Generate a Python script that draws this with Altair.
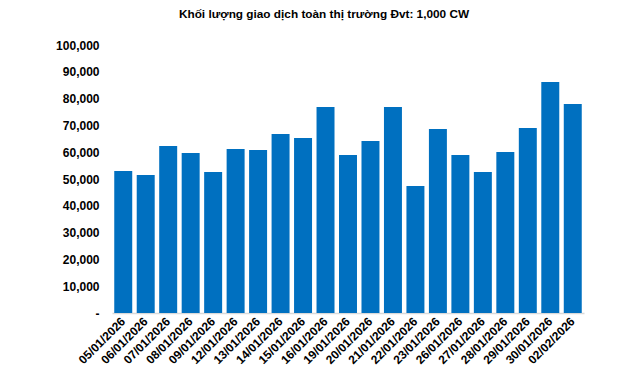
import altair as alt
import pandas as pd

dates = ["05/01/2026", "06/01/2026", "07/01/2026", "08/01/2026", "09/01/2026",
         "12/01/2026", "13/01/2026", "14/01/2026", "15/01/2026", "16/01/2026",
         "19/01/2026", "20/01/2026", "21/01/2026", "22/01/2026", "23/01/2026",
         "26/01/2026", "27/01/2026", "28/01/2026", "29/01/2026", "30/01/2026",
         "02/02/2026"]
volumes = [53000, 51500, 62300, 59700, 52600, 61200, 60800, 66800, 65300, 76900,
           59000, 64200, 76900, 47400, 68700, 59000, 52600, 60100, 69000, 86200,
           78000]

df = pd.DataFrame({"date": dates, "volume": volumes})

FONT = "Liberation Sans"

chart = alt.Chart(df).mark_bar(color="#0070C0").encode(
    x=alt.X("date:N", sort=dates, title=None,
            scale=alt.Scale(paddingInner=0.2, paddingOuter=0.1),
            axis=alt.Axis(labelAngle=-45, labelAlign="right", labelBaseline="middle",
                          labelFont=FONT, labelFontSize=12, labelFontWeight="bold",
                          labelColor="#000000", ticks=False, labelPadding=6,
                          domainColor="#d9d9d9", domainWidth=1.5, grid=False)),
    y=alt.Y("volume:Q", title=None,
            scale=alt.Scale(domain=[0, 100000], nice=False),
            axis=alt.Axis(values=list(range(0, 100001, 10000)),
                          labelExpr="datum.value == 0 ? '-\u00a0\u00a0' : format(datum.value, ',d')",
                          labelFont=FONT, labelFontSize=12, labelFontWeight="bold",
                          labelColor="#000000", ticks=False, domain=False, grid=False,
                          labelPadding=13)),
).properties(
    width=472, height=268,
    autosize=alt.AutoSizeParams(type="none"),
    padding={"left": 104, "top": 37, "right": 48, "bottom": 59},
    title=alt.TitleParams("Khối lượng giao dịch toàn thị trường Đvt: 1,000 CW",
                          font=FONT, fontSize=11.8, fontWeight="bold", color="#000000",
                          anchor="middle", dx=-24, offset=18),
).configure_view(stroke=None)

chart.save("out.html", embed_options={"renderer": "svg", "actions": False})
